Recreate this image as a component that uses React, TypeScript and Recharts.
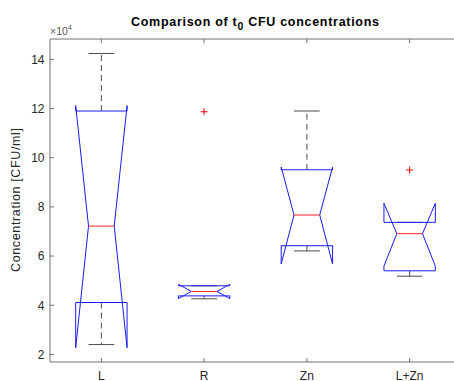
import React from 'react';
import { ComposedChart, Scatter, XAxis, YAxis, ReferenceLine } from 'recharts';

// Concentrations in units of 1e4 CFU/ml
const categories = ['L', 'R', 'Zn', 'L+Zn'];
const lowerQuartile = [4.11, 4.38, 6.42, 5.40];
const medians = [7.22, 4.56, 7.67, 6.91];
const upperQuartile = [11.90, 4.79, 9.51, 7.37];
const notchLow = [2.27, 4.27, 5.68, 5.59];
const notchHigh = [12.12, 4.85, 9.62, 8.15];
const whiskerLow = [2.40, 4.26, 6.21, 5.18];
const whiskerHigh = [14.24, 4.79, 11.90, 7.37];
const outlierGroup = [2, 4];
const outlierValue = [11.87, 9.50];
const yTicks = [2, 4, 6, 8, 10, 12, 14];

const Y_MIN = 1.69;
const Y_MAX = 14.83;
const X_MIN = 0.5;
const X_MAX = 4.5;
const BOX_HALF = 0.25;
const NOTCH_HALF = 0.125;
const CAP_HALF = 0.125;
const TICK_LEN_X = 0.039;
const TICK_LEN_Y = 0.163;

const AXIS_COLOR = '#707070';
const TEXT_COLOR = '#262626';
const BOX_COLOR = '#1a1aff';
const MEDIAN_COLOR = '#ff2020';
const WHISKER_COLOR = '#4d4d4d';
const FONT = '"Liberation Sans", Arial, Helvetica, sans-serif';

type Pt = { x: number; y: number };

const boxOutline = (i: number): Pt[] => {
  const c = i + 1;
  const w = BOX_HALF;
  const n = NOTCH_HALF;
  return [
    { x: c - w, y: lowerQuartile[i] },
    { x: c - w, y: notchLow[i] },
    { x: c - n, y: medians[i] },
    { x: c - w, y: notchHigh[i] },
    { x: c - w, y: upperQuartile[i] },
    { x: c + w, y: upperQuartile[i] },
    { x: c + w, y: notchHigh[i] },
    { x: c + n, y: medians[i] },
    { x: c + w, y: notchLow[i] },
    { x: c + w, y: lowerQuartile[i] },
    { x: c - w, y: lowerQuartile[i] },
  ];
};

const medianLine = (i: number): Pt[] => [
  { x: i + 1 - NOTCH_HALF, y: medians[i] },
  { x: i + 1 + NOTCH_HALF, y: medians[i] },
];

const upperWhisker = (i: number): Pt[] => [
  { x: i + 1, y: upperQuartile[i] },
  { x: i + 1, y: whiskerHigh[i] },
];
const lowerWhisker = (i: number): Pt[] => [
  { x: i + 1, y: lowerQuartile[i] },
  { x: i + 1, y: whiskerLow[i] },
];
const capLine = (i: number, v: number): Pt[] => [
  { x: i + 1 - CAP_HALF, y: v },
  { x: i + 1 + CAP_HALF, y: v },
];

const outliers: Pt[] = outlierGroup.map((g, k) => ({ x: g, y: outlierValue[k] }));

const NoMarker = () => <g />;

const PlusMarker = (props: any) => {
  const { cx, cy } = props;
  const r = 3.5;
  return (
    <g stroke="#ff0000" strokeWidth={1}>
      <line x1={cx - r} y1={cy} x2={cx + r} y2={cy} />
      <line x1={cx} y1={cy - r} x2={cx} y2={cy + r} />
    </g>
  );
};

const XTick = (props: any) => {
  const { x, payload } = props;
  return (
    <text x={x} y={379.5} textAnchor="middle" fontSize={12} fontFamily={FONT} fill={TEXT_COLOR}>
      {categories[payload.value - 1]}
    </text>
  );
};

const YTick = (props: any) => {
  const { y, payload } = props;
  return (
    <text x={44.5} y={y + 4.3} textAnchor="end" fontSize={12} fontFamily={FONT} fill={TEXT_COLOR}>
      {payload.value}
    </text>
  );
};

const polyline = (key: string, pts: Pt[], stroke: string, dash?: string) => (
  <Scatter
    key={key}
    data={pts}
    line={{ stroke, strokeWidth: 1, strokeDasharray: dash }}
    shape={NoMarker}
    isAnimationActive={false}
  />
);

export default function App() {
  const groups = categories.map((_, i) => i);
  return (
    <div style={{ position: 'fixed', left: 0, top: 0, width: 454, height: 381, overflow: 'hidden', background: '#fff' }}>
      <ComposedChart width={480} height={381} margin={{ top: 39, right: 19, bottom: 0, left: 0 }}>
        <XAxis
          type="number"
          dataKey="x"
          domain={[X_MIN, X_MAX]}
          ticks={[1, 2, 3, 4]}
          allowDataOverflow
          height={19}
          tickLine={false}
          tick={<XTick />}
          axisLine={{ stroke: AXIS_COLOR }}
        />
        <YAxis
          type="number"
          dataKey="y"
          domain={[Y_MIN, Y_MAX]}
          ticks={yTicks}
          allowDataOverflow
          width={50}
          tickLine={false}
          tick={<YTick />}
          axisLine={{ stroke: AXIS_COLOR }}
        />
        <ReferenceLine y={Y_MAX} stroke={AXIS_COLOR} ifOverflow="visible" />
        {yTicks.map((t) => (
          <ReferenceLine
            key={`yt${t}`}
            segment={[{ x: X_MIN, y: t }, { x: X_MIN + TICK_LEN_X, y: t }]}
            stroke={AXIS_COLOR}
          />
        ))}
        {groups.map((i) => (
          <ReferenceLine
            key={`xb${i}`}
            segment={[{ x: i + 1, y: Y_MIN }, { x: i + 1, y: Y_MIN + TICK_LEN_Y }]}
            stroke={AXIS_COLOR}
          />
        ))}
        {groups.map((i) => (
          <ReferenceLine
            key={`xt${i}`}
            segment={[{ x: i + 1, y: Y_MAX }, { x: i + 1, y: Y_MAX - TICK_LEN_Y }]}
            stroke={AXIS_COLOR}
          />
        ))}
        {groups.map((i) => polyline(`uw${i}`, upperWhisker(i), WHISKER_COLOR, '6 4'))}
        {groups.map((i) => polyline(`lw${i}`, lowerWhisker(i), WHISKER_COLOR, '6 4'))}
        {groups.map((i) => polyline(`uc${i}`, capLine(i, whiskerHigh[i]), WHISKER_COLOR))}
        {groups.map((i) => polyline(`lc${i}`, capLine(i, whiskerLow[i]), WHISKER_COLOR))}
        {groups.map((i) => polyline(`bx${i}`, boxOutline(i), BOX_COLOR))}
        {groups.map((i) => polyline(`md${i}`, medianLine(i), MEDIAN_COLOR))}
        <Scatter data={outliers} shape={PlusMarker} isAnimationActive={false} />
      </ComposedChart>
      <svg width={454} height={381} style={{ position: 'absolute', left: 0, top: 0, pointerEvents: 'none' }}>
        <text
          x={131}
          y={26}
          fontSize={12.5}
          fontWeight="bold"
          fontFamily={FONT}
          textLength={248}
          lengthAdjust="spacing"
          fill="#000"
        >
          Comparison of t
          <tspan fontSize={10.5} dy={4}>0</tspan>
          <tspan dy={-4}> CFU concentrations</tspan>
        </text>
        <text x={50} y={35} fontSize={10.5} fontFamily={FONT} fill="#555">
          ×10
          <tspan fontSize={7.5} dy={-5}>4</tspan>
        </text>
        <text
          x={0}
          y={0}
          transform="translate(20,200) rotate(-90)"
          textAnchor="middle"
          fontSize={12.5}
          fontFamily={FONT}
          textLength={144}
          lengthAdjust="spacing"
          fill={TEXT_COLOR}
        >
          Concentration [CFU/ml]
        </text>
      </svg>
    </div>
  );
}
